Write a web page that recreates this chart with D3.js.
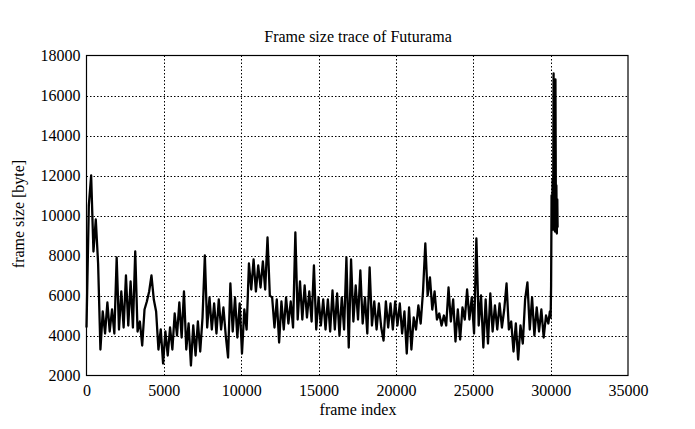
<!DOCTYPE html>
<meta charset="utf-8">
<script src="https://d3js.org/d3.v7.min.js"></script>
<style>
  body { margin: 0; background: #fff; }
  text { font-family: "Liberation Serif", "DejaVu Serif", serif; fill: #000; }
</style>
<body>
<svg width="695" height="429"></svg>
<script>
  // frame sizes, one every 150 frames (zig-zag keeps the band look)
  var step = 150;
  var sizes = [
    4400, 10500, 12000, 8200, 9800, 7600, 3300, 5200, 4100, 5650,
    4200, 5300, 4100, 7900, 4300, 6200, 4400, 7000, 4500, 6700,
    4400, 8200, 4200, 4700, 3500, 5300, 5700, 6200, 7000, 5800,
    5200, 3300, 4300, 2600, 4200, 3000, 4400, 3300, 5100, 4000,
    5650, 3900, 6200, 3300, 4600, 2500, 4500, 3000, 4700, 3200,
    4900, 8000, 4400, 5900, 4300, 5600, 4100, 5800, 4300, 5400,
    4000, 2900, 6600, 4200, 5900, 3900, 5600, 3100, 5300, 4300,
    7600, 6300, 7800, 6200, 7500, 6400, 7700, 6300, 8900, 6000,
    5900, 4400, 5800, 3650, 5700, 4300, 5900, 4600, 5700, 4400,
    9150, 4800, 6700, 4800, 6500, 4900, 6200, 4700, 7500, 4300,
    5900, 4500, 5800, 4300, 5800, 4200, 6250, 4300, 6100, 4000,
    5900, 4300, 7900, 3400, 7800, 4700, 6500, 4800, 7250, 4600,
    5900, 4100, 7400, 4500, 5700, 4300, 5600, 4400, 3750, 5700,
    4400, 5600, 4300, 5700, 4500, 5600, 4100, 5200, 3100, 5400,
    3300, 4900, 4300, 5500, 4600, 6200, 8600, 6000, 6900, 5300,
    6200, 4800, 5100, 4500, 5000, 4500, 6400, 4700, 5800, 3700,
    5300, 3800, 5400, 4800, 6300, 4800, 5900, 4100, 8850, 4500,
    6000, 3400, 5800, 3600, 6100, 4200, 5500, 4300, 5600, 4400,
    5300, 6600, 4300, 4700, 3200, 4600, 2800, 4500, 3600, 5800,
    6650, 4300, 5900, 4000, 5400, 4200, 5300, 3900, 5000, 4600
  ];
  // the burst at the end of the trace
  var endFrames = [29950, 30000, 30030, 30060, 30100, 30130, 30160, 30190, 30220,
                   30250, 30280, 30310, 30340, 30370, 30400, 30430, 30450];
  var endSizes  = [5200, 4900, 6500, 11000, 10200, 11800, 9300, 17100, 10500,
                   12000, 9200, 16800, 10000, 11500, 9100, 10800, 9400];

  var xTicks = [0, 5000, 10000, 15000, 20000, 25000, 30000, 35000];
  var yTicks = [2000, 4000, 6000, 8000, 10000, 12000, 14000, 16000, 18000];

  var trace = sizes.map(function (v, i) { return { f: i * step, v: v }; })
    .concat(endFrames.map(function (f, i) { return { f: f, v: endSizes[i] }; }));

  var svg = d3.select("svg");
  var pLeft = 86.5, pRight = 628, pTop = 55.5, pBottom = 375.5;

  var x = d3.scaleLinear().domain([0, 35000]).range([pLeft, pRight]);
  var y = d3.scaleLinear().domain([2000, 18000]).range([pBottom, pTop]);

  // grid
  var grid = svg.append("g")
    .attr("stroke", "#000")
    .attr("stroke-width", 1)
    .attr("stroke-dasharray", "1.5,2");
  grid.selectAll(".gx").data(xTicks.slice(1, -1)).enter().append("line")
    .attr("x1", function (d) { return Math.round(x(d)) + 0.5; })
    .attr("x2", function (d) { return Math.round(x(d)) + 0.5; })
    .attr("y1", pTop).attr("y2", pBottom);
  grid.selectAll(".gy").data(yTicks.slice(1, -1)).enter().append("line")
    .attr("y1", function (d) { return Math.round(y(d)) + 0.5; })
    .attr("y2", function (d) { return Math.round(y(d)) + 0.5; })
    .attr("x1", pLeft).attr("x2", pRight);

  // axes (labels only, frame drawn below)
  var xAxis = svg.append("g")
    .attr("transform", "translate(0," + pBottom + ")")
    .call(d3.axisBottom(x).tickValues(xTicks).tickSize(0).tickPadding(9).tickFormat(d3.format("d")));
  var yAxis = svg.append("g")
    .attr("transform", "translate(" + pLeft + ",0)")
    .call(d3.axisLeft(y).tickValues(yTicks).tickSize(0).tickPadding(6).tickFormat(d3.format("d")));
  [xAxis, yAxis].forEach(function (a) {
    a.select(".domain").remove();
    a.selectAll("text").style("font-size", "16px").attr("fill", "#000")
      .style("font-family", "'Liberation Serif', serif");
  });

  // trace
  var line = d3.line()
    .x(function (d) { return x(d.f); })
    .y(function (d) { return y(d.v); });
  svg.append("path")
    .datum(trace)
    .attr("fill", "none")
    .attr("stroke", "#000")
    .attr("stroke-width", 2.3)
    .attr("stroke-linejoin", "round")
    .attr("d", line);

  // frame
  svg.append("rect")
    .attr("x", pLeft).attr("y", pTop)
    .attr("width", pRight - pLeft).attr("height", pBottom - pTop)
    .attr("fill", "none").attr("stroke", "#000").attr("stroke-width", 1.2);

  // titles
  svg.append("text")
    .attr("x", 358).attr("y", 42)
    .attr("text-anchor", "middle")
    .style("font-size", "16px")
    .text("Frame size trace of Futurama");
  svg.append("text")
    .attr("x", 358).attr("y", 415)
    .attr("text-anchor", "middle")
    .style("font-size", "16px")
    .text("frame index");
  svg.append("text")
    .attr("transform", "translate(24,214) rotate(-90)")
    .attr("text-anchor", "middle")
    .style("font-size", "16px")
    .text("frame size [byte]");
</script>
</body>
